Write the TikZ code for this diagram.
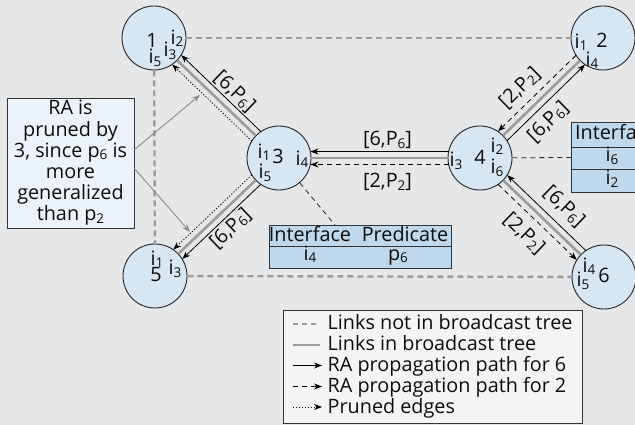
\documentclass[tikz,border=0pt]{standalone}
\usepackage{fontspec}
\setmainfont{Open Sans}
\usetikzlibrary{arrows.meta,calc}
\definecolor{bgc}{HTML}{E6E7E9}
\definecolor{nodec}{HTML}{D6E6F2}
\definecolor{tabc}{HTML}{BFD8EB}
\definecolor{notec}{HTML}{EBF2F9}
\definecolor{legc}{HTML}{F3F4F6}
\definecolor{linkc}{HTML}{9C9C9C}
\newcommand\lsub[1]{\raisebox{-2.5pt}{\fontsize{13.5}{13.5}\selectfont #1}}
\newcommand\offedge[4]{\draw[#1] ($(#2)!#4!90:(#3)$) -- ($(#3)!#4!-90:(#2)$);}
\newcommand\offlabel[6]{\path ($(#1)!#3!90:(#2)$) -- ($(#2)!#3!-90:(#1)$) node[elab, pos=#4] (#5) {#6};}
\begin{document}
\begin{tikzpicture}[x=1pt,y=-1pt,
  every node/.style={font=\fontsize{19.8}{21.2}\selectfont, text=black!95},
  router/.style={circle, draw=black!85, line width=0.9pt, fill=nodec, minimum size=64pt, inner sep=0pt},
  lbl/.style={inner sep=0pt},
  notree/.style={linkc, line width=2.4pt, dash pattern=on 6pt off 4pt},
  intree/.style={linkc, line width=2.6pt},
  ra6/.style={black, line width=0.8pt, -{Stealth[length=8pt,width=6pt]}, shorten <=31.5pt, shorten >=31.5pt},
  ra2/.style={ra6, dash pattern=on 5pt off 4pt},
  pruned/.style={ra6, dash pattern=on 1.2pt off 1.8pt},
  elab/.style={sloped, inner sep=0pt},
  tabbox/.style={draw=black!80, fill=tabc, line width=0.9pt, inner sep=0pt},
  callout/.style={black!85, line width=0.8pt, dash pattern=on 5pt off 4pt},
  grayarrow/.style={black!45, line width=0.9pt, -{Stealth[length=8pt,width=6pt]}},
  legsym/.style={line width=0.8pt}
]
\useasboundingbox (0,0) rectangle (635,425);
\fill[bgc] (0,0) rectangle (635,425);

% routers
\node[router] (n1) at (154,38) {};
\node[router] (n2) at (603,38) {};
\node[router] (n3) at (279,158) {};
\node[router] (n4) at (480,158) {};
\node[router] (n5) at (155,276) {};
\node[router] (n6) at (604,277) {};

% links not in broadcast tree
\draw[notree] (n1) -- (n2);
\draw[notree] (n1) -- (n5);
\draw[notree] (n5) -- (n6);

% links in broadcast tree
\draw[intree] (n1) -- (n3);
\draw[intree] (n3) -- (n5);
\draw[intree] (n3) -- (n4);
\draw[intree] (n4) -- (n2);
\draw[intree] (n4) -- (n6);

% RA propagation
\offedge{ra6}{n4}{n3}{-6.5pt}
\offedge{ra2}{n4}{n3}{6.5pt}
\offedge{ra6}{n3}{n1}{-6.5pt}
\offedge{pruned}{n3}{n1}{6.5pt}
\offedge{ra6}{n3}{n5}{6.5pt}
\offedge{pruned}{n3}{n5}{-6.5pt}
\offedge{ra6}{n4}{n2}{-6.5pt}
\offedge{ra2}{n2}{n4}{-6.5pt}
\offedge{ra6}{n6}{n4}{-6.5pt}
\offedge{ra2}{n4}{n6}{-6.5pt}

% edge labels
\offlabel{n4}{n3}{-18pt}{0.46}{l43a}{[6,P\lsub{6}]}
\offlabel{n4}{n3}{24pt}{0.46}{l43b}{[2,P\lsub{2}]}
\offlabel{n3}{n1}{-17pt}{0.45}{l31}{[6,P\lsub{6}]}
\offlabel{n3}{n5}{18pt}{0.49}{l35}{[6,P\lsub{6}]}
\offlabel{n4}{n2}{-22pt}{0.43}{l42a}{[6,P\lsub{6}]}
\offlabel{n4}{n2}{22pt}{0.45}{l42b}{[2,P\lsub{2}]}
\offlabel{n4}{n6}{23pt}{0.55}{l46a}{[6,P\lsub{6}]}
\offlabel{n4}{n6}{-24pt}{0.49}{l46b}{[2,P\lsub{2}]}

% router texts
\node[lbl] (t1a) at (152,40) {1};
\node[lbl] (t1b) at (177,38) {i\lsub{2}};
\node[lbl] (t1c) at (170,51) {i\lsub{3}};
\node[lbl] (t1d) at (155,58) {i\lsub{5}};
\node[lbl] (t2a) at (581,42) {i\lsub{1}};
\node[lbl] (t2b) at (602,40) {2};
\node[lbl] (t2c) at (592,60) {i\lsub{4}};
\node[lbl] (t3a) at (264,152) {i\lsub{1}};
\node[lbl] (t3b) at (278,156) {3};
\node[lbl] (t3c) at (302,159) {i\lsub{4}};
\node[lbl] (t3d) at (265,173) {i\lsub{5}};
\node[lbl] (t4a) at (456,161) {i\lsub{3}};
\node[lbl] (t4b) at (480,157) {4};
\node[lbl] (t4c) at (497,146) {i\lsub{2}};
\node[lbl] (t4d) at (497,168) {i\lsub{6}};
\node[lbl] (t5a) at (157,259) {i\lsub{1}};
\node[lbl] (t5b) at (156,275) {5};
\node[lbl] (t5c) at (175,269) {i\lsub{3}};
\node[lbl] (t6a) at (589,266) {i\lsub{4}};
\node[lbl] (t6b) at (583,281) {i\lsub{5}};
\node[lbl] (t6c) at (604,275) {6};

% left table
\node[tabbox, anchor=north west, minimum width=182pt, minimum height=43pt] (tabL) at (269,225) {};
\draw[black!80, line width=0.9pt] (tabL.west |- 0,246) -- (tabL.east |- 0,246);
\node[lbl, anchor=base] (tLh1) at (310,241) {Interface};
\node[lbl, anchor=base] (tLh2) at (405,241) {Predicate};
\node[lbl, anchor=base] (tLr1) at (310,260) {i\lsub{4}};
\node[lbl, anchor=base] (tLr2) at (398,260) {p\lsub{6}};
\coordinate (tabLtop) at (335,225);
\draw[callout] (n3) -- (tabLtop);

% right table (clipped by the picture edge)
\begin{scope}
\clip (0,0) rectangle (635,425);
\node[tabbox, anchor=north west, minimum width=182pt, minimum height=70pt] (tabR) at (571,122) {};
\draw[black!80, line width=0.9pt] (tabR.west |- 0,147) -- (tabR.east |- 0,147);
\draw[black!80, line width=0.9pt] (tabR.west |- 0,169) -- (tabR.east |- 0,169);
\node[lbl, anchor=base west] (tRh1) at (575,140) {Interface};
\node[lbl, anchor=base] (tRr1) at (612,162) {i\lsub{6}};
\node[lbl, anchor=base] (tRr2) at (612,185) {i\lsub{2}};
\end{scope}
\draw[callout] (n4) -- (tabR.west);

% note
\node[draw=black!80, fill=notec, line width=0.9pt, minimum width=127pt, minimum height=130pt, align=center, inner sep=0pt] (note) at (70.5,163)
  {RA is\\pruned by\\3, since p\lsub{6} is\\more\\generalized\\than p\lsub{2}};
\coordinate (ga1) at (134,150);
\coordinate (ga1t) at (200,95);
\coordinate (ga2) at (134,168);
\coordinate (ga2t) at (190,232);
\draw[grayarrow] (ga1) -- (ga1t);
\draw[grayarrow] (ga2) -- (ga2t);

% legend
\node[draw=black!80, fill=legc, line width=0.9pt, minimum width=299pt, minimum height=113pt, inner sep=0pt] (legend) at (432.5,366.5) {};
\coordinate (s1a) at (293,323.5); \coordinate (s1b) at (320,323.5);
\coordinate (s2a) at (293,345); \coordinate (s2b) at (320,345);
\coordinate (s3a) at (293,365.5); \coordinate (s3b) at (322,365.5);
\coordinate (s4a) at (293,386.5); \coordinate (s4b) at (322,386.5);
\coordinate (s5a) at (293,407); \coordinate (s5b) at (322,407);
\draw[linkc, line width=2pt, dash pattern=on 5pt off 4pt] (s1a) -- (s1b);
\draw[linkc, line width=2.4pt] (s2a) -- (s2b);
\draw[legsym, -{Stealth[length=8pt,width=6pt]}] (s3a) -- (s3b);
\draw[legsym, dash pattern=on 5pt off 4pt, -{Stealth[length=8pt,width=6pt]}] (s4a) -- (s4b);
\draw[legsym, dash pattern=on 1.2pt off 1.8pt, -{Stealth[length=8pt,width=6pt]}] (s5a) -- (s5b);
\node[lbl, anchor=base west] (g1) at (327.5,329.3) {Links not in broadcast tree};
\node[lbl, anchor=base west] (g2) at (327.5,350.3) {Links in broadcast tree};
\node[lbl, anchor=base west] (g3) at (327.5,371.3) {RA propagation path for 6};
\node[lbl, anchor=base west] (g4) at (327.5,392.3) {RA propagation path for 2};
\node[lbl, anchor=base west] (g5) at (327.5,413.3) {Pruned edges};
\end{tikzpicture}
\end{document}
